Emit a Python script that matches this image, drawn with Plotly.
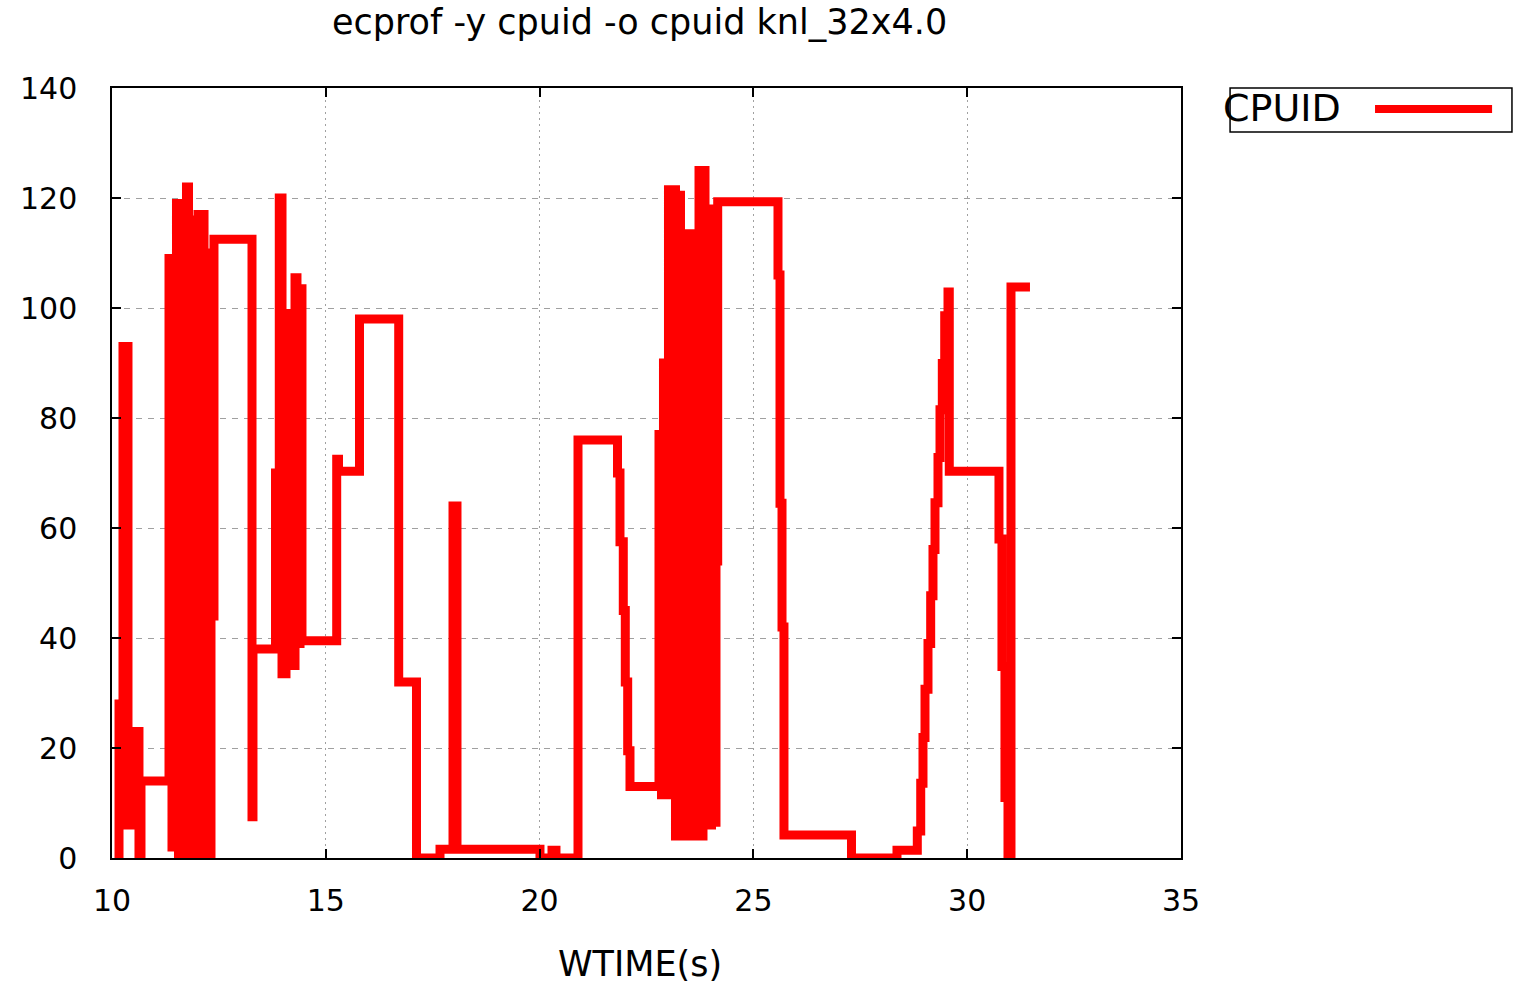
import plotly.graph_objects as go

# Step-series values (WTIME in seconds, CPUID)
wtime = [
    10.094, 10.164, 10.257, 10.374, 10.585, 10.631, 10.678,
    11.333, 11.403, 11.508, 11.555, 11.590, 11.637, 11.742, 11.789, 11.836,
    11.883, 11.918, 11.964, 12.011, 12.058, 12.105, 12.152, 12.198, 12.245,
    12.315, 12.385, 13.274, 13.297,
    13.824, 13.912, 13.976, 14.069, 14.128, 14.186, 14.233, 14.280, 14.326,
    14.397, 14.443, 15.255, 15.297, 15.788, 16.705, 17.121, 17.671, 17.975,
    18.068, 20.009, 20.290, 20.383, 20.898,
    21.822, 21.880, 21.957, 22.004, 22.060, 22.114,
    22.792, 22.851, 22.897, 22.956, 23.014, 23.073, 23.120, 23.178, 23.237,
    23.295, 23.353, 23.412, 23.470, 23.529, 23.576, 23.634, 23.728, 23.774,
    23.821, 23.868, 23.926, 23.973, 24.020, 24.067, 24.125, 24.165,
    25.575, 25.622, 25.669, 25.715, 27.294, 28.358,
    28.833, 28.913, 28.966, 29.013, 29.083, 29.146, 29.200, 29.247, 29.317,
    29.364, 29.418, 29.474, 29.551, 29.581,
    30.743, 30.813, 30.883, 30.954, 31.024, 31.468,
]
cpuid = [
    0, 28, 93, 6, 23, 0, 14,
    109, 2, 119, 0, 119, 0, 122, 0, 116,
    0, 116, 0, 117, 0, 117, 0, 110, 0,
    44, 112.5, 7.5, 38,
    70, 120, 33.5, 99, 35, 99, 35, 105.5, 39,
    103.5, 39.5, 72.5, 70.3, 98, 32, 0, 1.6, 64,
    1.6, 0, 1.4, 0, 76,
    70, 57.5, 45, 32, 19.5, 13,
    77, 11.5, 90, 11.5, 121.5, 11.5, 121.5, 4, 120.5,
    4, 109, 16.5, 113.5, 4, 113.5, 4, 125, 4,
    125, 6, 107.5, 6, 118, 6.5, 54, 119.3,
    106, 64.5, 42, 4.2, 0, 1.4,
    4.9, 13.6, 21.9, 30.7, 39, 47.7, 56.1, 64.6, 72.8,
    81.5, 89.9, 98.6, 102.9, 70.3,
    58, 34.8, 11, 0, 103.8, 103.8,
]

x_ticks = [10, 15, 20, 25, 30, 35]
y_ticks = [0, 20, 40, 60, 80, 100, 120, 140]
title_text = "ecprof -y cpuid -o cpuid knl_32x4.0"
x_title = "WTIME(s)"
series_name = "CPUID"

FONT = "DejaVu Sans"

fig = go.Figure()
fig.add_trace(go.Scatter(
    x=wtime, y=cpuid, mode="lines", name=series_name,
    line=dict(color="#ff0000", width=9, shape="hv", simplify=False),
    showlegend=False,
))

fig.update_layout(
    width=1513, height=983,
    margin=dict(l=112, r=332, t=88, b=125),
    paper_bgcolor="white", plot_bgcolor="white",
    font=dict(family=FONT, size=30, color="black"),
    xaxis=dict(
        range=[10, 35], tickvals=x_ticks, ticktext=[str(v) for v in x_ticks],
        ticks="inside", ticklen=9, tickcolor="black", tickwidth=1.5,
        showline=True, linecolor="black", linewidth=1.5, mirror="allticks",
        showgrid=True, gridcolor="#a0a0a0", gridwidth=1, griddash="2px,4px",
        zeroline=False, ticklabelstandoff=15,
        tickfont=dict(family=FONT, size=30, color="black"),
    ),
    yaxis=dict(
        range=[0, 140], tickvals=y_ticks, ticktext=[str(v) for v in y_ticks],
        ticks="inside", ticklen=9, tickcolor="black", tickwidth=1.5,
        showline=True, linecolor="black", linewidth=1.5, mirror="allticks",
        showgrid=True, gridcolor="#a0a0a0", gridwidth=1, griddash="6px,6px",
        zeroline=False, ticklabelstandoff=27,
        tickfont=dict(family=FONT, size=30, color="black"),
    ),
    annotations=[
        dict(text=title_text, xref="paper", yref="paper", x=0.4935, y=1.086,
             xanchor="center", yanchor="middle", showarrow=False,
             font=dict(family=FONT, size=35, color="black")),
        dict(text=x_title, xref="paper", yref="paper", x=0.494, y=-0.1375,
             xanchor="center", yanchor="middle", showarrow=False,
             font=dict(family=FONT, size=35, color="black")),
        dict(text=series_name, xref="paper", yref="paper", x=1.0375, y=0.974,
             xanchor="left", yanchor="middle", showarrow=False,
             font=dict(family=FONT, size=38, color="black")),
    ],
    shapes=[
        dict(type="rect", xref="paper", yref="paper", x0=1.0459, x1=1.3096,
             y0=0.9429, y1=1.0, line=dict(color="black", width=1.5)),
        dict(type="line", xref="paper", yref="paper", x0=1.1815, x1=1.291,
             y0=0.9727, y1=0.9727, line=dict(color="#ff0000", width=8)),
    ],
)

fig.write_html("out.html", config={"displayModeBar": False},
               post_script="document.body.style.margin='0';")
